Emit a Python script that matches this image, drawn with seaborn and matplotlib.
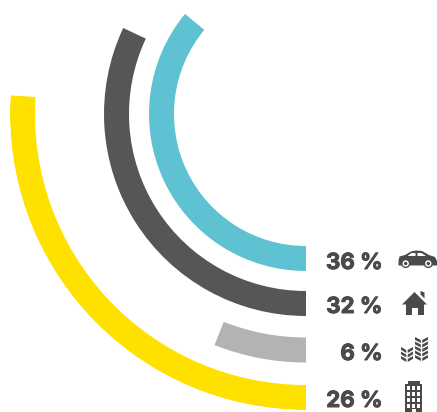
import numpy as np
import pandas as pd
import matplotlib.pyplot as plt
import matplotlib.patheffects as pe
from matplotlib.patches import Circle, Polygon, Rectangle
import seaborn as sns

labels = ['36 %', '32 %', '6 %', '26 %']
shares = [36, 32, 6, 26]
colors = ['#5FC2D3', '#575654', '#B3B3B3', '#FFE100']

INK = '#4A4A4A'
W, H = 437, 412
CX, CY = 306, 114      # centre of the rings, in pixels
R_MAX = 296
RING_R = [144.5, 189.5, 236, 283.5]
RING_W = 25

sns.set_theme(style='white')
plt.rcParams['font.family'] = ['Inter', 'DejaVu Sans']

df = pd.DataFrame({'label': labels, 'share': shares, 'ring': RING_R})
df['theta'] = df['share'] / 100 * 2 * np.pi

fig = plt.figure(figsize=(W / 100, H / 100), dpi=100, facecolor='white')
ax = fig.add_axes([(CX - R_MAX) / W, 1 - (CY + R_MAX) / H, 2 * R_MAX / W, 2 * R_MAX / H],
                  projection='polar')
ax.set_theta_zero_location('S')
ax.set_theta_direction(-1)

sns.barplot(data=df, x='theta', y='ring', hue='label', palette=colors, hue_order=labels,
            orient='y', native_scale=True, width=RING_W / 45, saturation=1, legend=False,
            linewidth=0, ax=ax)
ax.set_ylim(0, R_MAX)
ax.set_xlim(0, 2 * np.pi)
ax.axis('off')

# overlay in pixel coordinates for the labels and icons
ov = fig.add_axes([0, 0, 1, 1], facecolor='none')
ov.set_xlim(0, W)
ov.set_ylim(H, 0)
ov.axis('off')

for label, y in zip(labels, [261, 305, 352, 399]):
    ov.text(382.5, y, label, ha='right', va='center_baseline', fontsize=16,
            fontweight='bold', color=INK,
            path_effects=[pe.withStroke(linewidth=0.7, foreground=INK)])


def poly(pts, color=INK):
    ov.add_patch(Polygon(pts, closed=True, facecolor=color, edgecolor='none'))


def rect(x0, y0, x1, y1, color=INK):
    ov.add_patch(Rectangle((x0, y0), x1 - x0, y1 - y0, facecolor=color, edgecolor='none'))


# car
poly([(398.5, 261), (399.5, 256.5), (405, 255), (411, 251.5), (416, 250.5), (422, 251), (429, 255),
      (435, 257), (437, 261), (437, 265.5), (398.5, 265.5)])
poly([(407.5, 256), (411.5, 253), (415.5, 253), (415.5, 256)], 'white')
poly([(417.5, 253), (421.5, 253), (426, 256), (417.5, 256)], 'white')
for wx in [405.7, 428.3]:
    ov.add_patch(Circle((wx, 263.5), 4.6, facecolor=INK, edgecolor='none'))
    ov.add_patch(Circle((wx, 263.5), 3.2, facecolor='white', edgecolor='none'))
    ov.add_patch(Circle((wx, 263.5), 1.7, facecolor=INK, edgecolor='none'))

# house
poly([(402, 304.5), (414.5, 292), (427, 304.5)])
poly([(420.5, 291), (424.5, 292.5), (424.5, 298.5), (420.5, 294.5)])
rect(406, 304, 424, 314.5)
rect(412, 308, 418, 314.5, 'white')


# wheat
def stalk(x, top, bottom, half):
    y = top
    while y < bottom - 2:
        poly([(x - 0.7, y + 3), (x - half, y), (x - half, y + 2.8), (x - 0.7, y + 6)])
        poly([(x + 0.7, y + 3), (x + half, y), (x + half, y + 2.8), (x + 0.7, y + 6)])
        y += 4.5


stalk(407, 347, 361, 6)
stalk(421.5, 337, 361, 6.5)

# building
rect(405, 384, 422, 412)
rect(407.5, 381, 419.5, 384)
for wy in [386, 392, 398, 404]:
    for wx in [407, 412, 417]:
        rect(wx, wy, wx + 3.4, wy + 4, 'white')
rect(412, 409, 415.6, 412, 'white')

fig.savefig('out.png', dpi=100, facecolor='white')
